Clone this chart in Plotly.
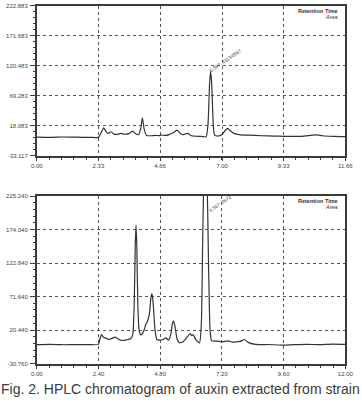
import plotly.graph_objects as go

# ---------------- data ----------------
top_time = [0.0, 0.5, 1.0, 1.5, 2.0, 2.33, 2.42, 2.53, 2.62, 2.70, 2.81, 2.92, 3.05, 3.18, 3.32, 3.5, 3.62, 3.72, 3.85,
            3.93, 3.99, 4.06, 4.15, 4.3, 4.5, 4.62, 4.72, 4.85, 5.0, 5.15, 5.3, 5.45, 5.55, 5.7, 5.85, 6.1, 6.3, 6.4,
            6.47, 6.53, 6.57, 6.61, 6.67, 6.72, 6.85, 7.0, 7.12, 7.22, 7.3, 7.45, 7.7, 8.0, 8.5, 9.0, 9.33, 10.0,
            10.4, 10.6, 10.8, 11.2, 11.66]
top_signal = [-1.5, -1.8, -1.2, -1.5, -1.8, -1.8, 5, 14.5, 8, 5, 7.8, 3.5, 3.4, 5, 3.5, 5, 9, 5, 3,
              14, 31.4, 12, 1.5, 1.0, 1.5, 1.2, 2.2, 1.5, 3, 6, 10.5, 4, 3, 5, 1, 0, -0.5, -1,
              20, 90, 111, 90, 20, 2, 0.5, 3, 10, 13.5, 10, 5, 2.5, 2, 1, 0.5, 0, 0,
              2, 2.5, 1, 0, -0.5]

bot_time = [0.0, 0.5, 1.0, 1.5, 2.0, 2.4, 2.45, 2.52, 2.6, 2.7, 2.8, 2.95, 3.05, 3.15, 3.3, 3.5, 3.65, 3.73,
            3.79, 3.83, 3.86, 3.89, 3.93, 3.98, 4.05, 4.15, 4.25, 4.3, 4.38, 4.44, 4.48, 4.53, 4.6, 4.67, 4.8,
            4.9, 5.02, 5.12, 5.22, 5.27, 5.32, 5.38, 5.45, 5.55, 5.7, 5.85, 5.96, 6.02, 6.08, 6.2, 6.33, 6.4,
            6.45, 6.5, 6.56, 6.62, 6.68, 6.74, 6.8, 7.0, 7.2, 7.45, 7.6, 7.9, 8.08, 8.2, 8.5, 9.0, 9.6, 10.0,
            10.5, 11.0, 11.5, 12.0]
bot_signal = [-2, -1.5, -2, -1.8, -1.8, -1.5, 6, 13.5, 9, 8, 6, 8, 9.5, 7, 4.5, 5.5, 7, 13,
              60, 150, 181, 150, 60, 20, 13, 18, 30, 33, 45, 70, 76, 60, 20, 6, 5,
              6, 8.5, 5, 15, 30, 34.5, 25, 8, 1, 3, 10, 15, 12, 13.5, 5, 1, 30,
              150, 260, 300, 260, 120, 20, 4, 3.5, 2.5, 4, 2, 3, 6, 2, -1.5, -1.7, -2.5, -2,
              -1.5, -1.8, -1, -1.5]

top_xticks = [0.0, 2.33, 4.66, 7.00, 9.33, 11.66]
top_xlabels = ["0.00", "2.33", "4.66", "7.00", "9.33", "11.66"]
top_yticks = [-33.117, 18.083, 69.283, 120.483, 171.683, 222.883]
top_ylabels = ["-33.117", "18.083", "69.283", "120.483", "171.683", "222.883"]

bot_xticks = [0.0, 2.40, 4.80, 7.20, 9.60, 12.00]
bot_xlabels = ["0.00", "2.40", "4.80", "7.20", "9.60", "12.00"]
bot_yticks = [-30.760, 20.440, 71.640, 122.840, 174.040, 225.240]
bot_ylabels = ["-30.760", "20.440", "71.640", "122.840", "174.040", "225.240"]

top_peak_label = "6.567: 3113/0567"
bot_peak_label = "6.567: 0672"
caption = "Fig. 2. HPLC chromatogram of auxin extracted from strain"

# ---------------- figure ----------------
W, H = 362, 402
line_col = "#333333"
frame_col = "#3a3a3a"
grid_col = "#555555"
tick_font = dict(family="Liberation Sans, Arial, sans-serif", size=6, color="#444444")

fig = go.Figure()
fig.add_trace(go.Scatter(x=top_time, y=top_signal, mode="lines", xaxis="x", yaxis="y",
                         line=dict(color=line_col, width=1.2, shape="spline", smoothing=0.5),
                         showlegend=False, hoverinfo="skip"))
fig.add_trace(go.Scatter(x=bot_time, y=bot_signal, mode="lines", xaxis="x2", yaxis="y2",
                         line=dict(color=line_col, width=1.2, shape="spline", smoothing=0.5),
                         showlegend=False, hoverinfo="skip"))

xdom = [32 / W, 353 / W]
top_ydom = [1 - 155 / H, 1 - 3 / H]
bot_ydom = [1 - 366 / H, 1 - 196 / H]


def xaxis_cfg(ticks, labels, anchor):
    rng = [ticks[0], ticks[-1]]
    return dict(domain=xdom, range=rng, anchor=anchor, tickmode="array", tickvals=ticks, ticktext=labels,
                showline=True, linecolor=frame_col, linewidth=1.5, mirror=True,
                ticks="outside", ticklen=3.5, tickwidth=1, tickcolor=frame_col,
                showgrid=True, gridcolor=grid_col, gridwidth=1, griddash="dot",
                zeroline=False, tickfont=tick_font, ticklabelstandoff=0,
                minor=dict(tickmode="linear", tick0=ticks[0], dtick=(ticks[1] - ticks[0]) / 5,
                           ticks="outside", ticklen=2.5, tickcolor=frame_col, showgrid=False))


def yaxis_cfg(ticks, labels, anchor):
    rng = [ticks[0], ticks[-1]]
    return dict(domain=top_ydom if anchor == "x" else bot_ydom, range=rng, anchor=anchor,
                tickmode="array", tickvals=ticks, ticktext=labels,
                showline=True, linecolor=frame_col, linewidth=1.5, mirror=True,
                ticks="outside", ticklen=5, tickwidth=1.2, tickcolor=frame_col,
                showgrid=True, gridcolor=grid_col, gridwidth=1, griddash="dot",
                zeroline=False, tickfont=tick_font, ticklabelstandoff=1,
                minor=dict(tickmode="linear", tick0=ticks[0], dtick=(ticks[1] - ticks[0]) / 5,
                           ticks="outside", ticklen=2.5, tickcolor=frame_col, showgrid=False))


fig.update_layout(
    width=W, height=H, margin=dict(l=0, r=0, t=0, b=0),
    paper_bgcolor="white", plot_bgcolor="white",
    xaxis=xaxis_cfg(top_xticks, top_xlabels, "y"),
    yaxis=yaxis_cfg(top_yticks, top_ylabels, "x"),
    xaxis2=xaxis_cfg(bot_xticks, bot_xlabels, "y2"),
    yaxis2=yaxis_cfg(bot_yticks, bot_ylabels, "x2"),
)

small = dict(family="Liberation Sans, Arial, sans-serif", size=5.5, color="#333333")
ann = []
for ytop in (top_ydom[1], bot_ydom[1]):
    ann.append(dict(text="<b>Retention Time</b>", xref="paper", yref="paper", x=347 / W, y=ytop - 5 / H,
                    xanchor="right", yanchor="middle", showarrow=False, font=small))
    ann.append(dict(text="<i>Area</i>", xref="paper", yref="paper", x=347 / W, y=ytop - 11 / H,
                    xanchor="right", yanchor="middle", showarrow=False, font=small))

# peak labels anchored to the peak maxima
ti = top_signal.index(max(top_signal))
ann.append(dict(text=top_peak_label, xref="x", yref="y", x=top_time[ti], y=top_signal[ti],
                xanchor="center", yanchor="middle", showarrow=False, textangle=-34,
                xshift=15, yshift=11, font=dict(family="Liberation Sans, Arial", size=4.8, color="#333333")))
bi = bot_signal.index(max(bot_signal))
ann.append(dict(text=bot_peak_label, xref="x2", yref="y2", x=bot_time[bi], y=bot_yticks[-1],
                xanchor="center", yanchor="middle", showarrow=False, textangle=-34,
                xshift=15, yshift=-7, font=dict(family="Liberation Sans, Arial", size=4.8, color="#333333")))

ann.append(dict(text=caption, xref="paper", yref="paper", x=0.5, y=1 - 392 / H, xanchor="center",
                yanchor="middle", showarrow=False,
                font=dict(family="Liberation Sans, Arial, sans-serif", size=14, color="#3a3a3a")))
fig.update_layout(annotations=ann)

fig.write_html("out.html")
